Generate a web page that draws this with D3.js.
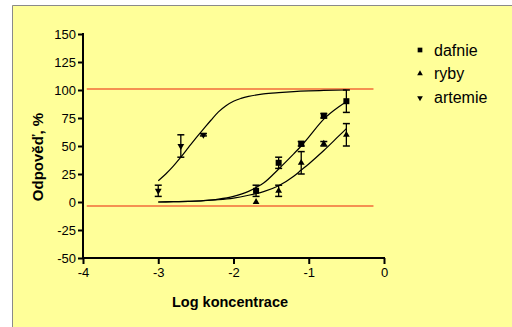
<!DOCTYPE html>
<html>
<head>
<meta charset="utf-8">
<script src="https://cdn.jsdelivr.net/npm/d3@7"></script>
<style>
  body { margin: 0; background: #fff; }
  svg { display: block; }
  .tick text { font-family: "Liberation Sans", Arial, sans-serif; font-size: 13px; fill: #000; }
</style>
</head>
<body>
<div id="chart"></div>
<script>
// measured points (log concentration, response %, error)
var dafnieX = [-1.7, -1.4, -1.1, -0.8, -0.5];
var dafnieY = [10, 35, 52, 77, 90];
var dafnieErr = [5, 5, 2, 2, 10];

var rybyX = [-1.7, -1.4, -1.1, -0.8, -0.5];
var rybyY = [0, 10, 35, 52, 60];
var rybyErr = [0, 5, 10, 2, 10];

var artemieX = [-3, -2.7, -2.4];
var artemieY = [10, 50, 60];
var artemieErr = [5, 10, 1];

// fitted curves
var artemieCurveX = [-3, -2.9, -2.8, -2.7, -2.6, -2.5, -2.4, -2.3, -2.2, -2.1, -2.0, -1.9, -1.8, -1.6, -1.4, -1.2, -1.0, -0.8, -0.5];
var artemieCurveY = [19, 25, 32, 40, 48.5, 57, 65, 73, 80.5, 86, 90, 92.5, 94.3, 96.5, 97.7, 98.6, 99.2, 99.6, 100];

var dafnieCurveX = [-3, -2.8, -2.6, -2.4, -2.2, -2.0, -1.8, -1.7, -1.6, -1.4, -1.2, -1.1, -1.0, -0.8, -0.6, -0.5];
var dafnieCurveY = [0, 0.3, 0.6, 1.2, 2.5, 5, 9.5, 13, 17, 29.5, 43, 50, 58, 74, 85, 89.5];

var rybyCurveX = [-3, -2.8, -2.6, -2.4, -2.2, -2.0, -1.8, -1.7, -1.6, -1.4, -1.2, -1.1, -1.0, -0.8, -0.6, -0.5];
var rybyCurveY = [0, 0.3, 0.6, 1.1, 2, 3.5, 6, 7.5, 9.3, 14.5, 23, 28.5, 34, 46, 59, 65.5];

var refLines = [101, -3.5];
var xTicks = [-4, -3, -2, -1, 0];
var yTicks = [-50, -25, 0, 25, 50, 75, 100, 125, 150];
var legendNames = ["dafnie", "ryby", "artemie"];

var W = 512, H = 327;
var svg = d3.select("#chart").append("svg")
  .attr("width", W)
  .attr("height", H);

// yellow panel with grey frame on top/left
svg.append("rect")
  .attr("x", 12).attr("y", 5)
  .attr("width", W - 12).attr("height", H - 5)
  .attr("fill", "#ffff99");
svg.append("path")
  .attr("d", "M12.5," + H + "V5.5H" + W)
  .attr("fill", "none")
  .attr("stroke", "#8a8a8a")
  .attr("stroke-width", 1);

var x = d3.scaleLinear().domain([-4, 0]).range([83, 384]);
var y = d3.scaleLinear().domain([-50, 150]).range([258, 34]);

// axes
var xAxis = d3.axisBottom(x).tickValues(xTicks).tickSize(6).tickPadding(4).tickFormat(d3.format("d"));
var gx = svg.append("g").attr("transform", "translate(0," + y(-50) + ")").call(xAxis);
var yAxis = d3.axisLeft(y).tickValues(yTicks).tickSize(5).tickPadding(2).tickFormat(d3.format("d"));
var gy = svg.append("g").attr("transform", "translate(" + x(-4) + ",0)").call(yAxis);

[gx, gy].forEach(function(g) {
  g.select(".domain").remove();
  g.selectAll(".tick line").attr("stroke", "#000").attr("stroke-width", 2);
  g.selectAll(".tick text").text(function(d) { return d < 0 ? "-" + Math.abs(d) : d; });
});
svg.append("line")
  .attr("x1", x(-4) - 1).attr("x2", x(0) + 1)
  .attr("y1", y(-50)).attr("y2", y(-50))
  .attr("stroke", "#000").attr("stroke-width", 2);
svg.append("line")
  .attr("x1", x(-4)).attr("x2", x(-4))
  .attr("y1", y(150) - 1).attr("y2", y(-50))
  .attr("stroke", "#000").attr("stroke-width", 2);

// reference lines
svg.selectAll("line.ref")
  .data(refLines)
  .enter().append("line")
  .attr("class", "ref")
  .attr("x1", x(-3.95)).attr("x2", x(-0.14))
  .attr("y1", function(d) { return y(d); })
  .attr("y2", function(d) { return y(d); })
  .attr("stroke", "#f26b3a")
  .attr("stroke-width", 1.5);

// curves
var line = d3.line()
  .x(function(d) { return x(d[0]); })
  .y(function(d) { return y(d[1]); })
  .curve(d3.curveMonotoneX);

[[artemieCurveX, artemieCurveY], [dafnieCurveX, dafnieCurveY], [rybyCurveX, rybyCurveY]].forEach(function(c) {
  svg.append("path")
    .datum(d3.zip(c[0], c[1]))
    .attr("d", line)
    .attr("fill", "none")
    .attr("stroke", "#000")
    .attr("stroke-width", 1.2);
});

// error bars
function errorBars(xs, ys, es) {
  var g = svg.append("g");
  xs.forEach(function(xv, i) {
    if (es[i] <= 0) return;
    var top = y(ys[i] + es[i]), bot = y(ys[i] - es[i]), cx = x(xv);
    g.append("line").attr("x1", cx).attr("x2", cx).attr("y1", top).attr("y2", bot)
      .attr("stroke", "#000").attr("stroke-width", 1.3);
    [top, bot].forEach(function(yy) {
      g.append("line").attr("x1", cx - 3.5).attr("x2", cx + 3.5).attr("y1", yy).attr("y2", yy)
        .attr("stroke", "#000").attr("stroke-width", 1.5);
    });
  });
}
errorBars(dafnieX, dafnieY, dafnieErr);
errorBars(rybyX, rybyY, rybyErr);
errorBars(artemieX, artemieY, artemieErr);

// markers
var sq = d3.symbol().type(d3.symbolSquare).size(36);
var tri = d3.symbol().type(d3.symbolTriangle).size(20);

function markers(xs, ys, sym, rot) {
  svg.append("g").selectAll("path")
    .data(d3.zip(xs, ys))
    .enter().append("path")
    .attr("d", sym)
    .attr("transform", function(d) { return "translate(" + x(d[0]) + "," + y(d[1]) + ")" + (rot ? " rotate(180)" : ""); })
    .attr("fill", "#000");
}
markers(dafnieX, dafnieY, sq, false);
markers(rybyX, rybyY, tri, false);
markers(artemieX, artemieY, tri, true);

// legend
var legSyms = [d3.symbol().type(d3.symbolSquare).size(22), d3.symbol().type(d3.symbolTriangle).size(14), d3.symbol().type(d3.symbolTriangle).size(14)];
var leg = svg.append("g");
legendNames.forEach(function(name, i) {
  var cy = 50 + i * 23.5;
  leg.append("path")
    .attr("d", legSyms[i])
    .attr("transform", "translate(420," + (cy + (i === 2 ? 1 : 0)) + ")" + (i === 2 ? " rotate(180)" : ""))
    .attr("fill", "#000");
  leg.append("text")
    .attr("x", 434).attr("y", cy + 5.5)
    .attr("font-family", "Liberation Sans, Arial, sans-serif")
    .attr("font-size", 16)
    .text(name);
});

// axis titles
svg.append("text")
  .attr("x", 230).attr("y", 307)
  .attr("text-anchor", "middle")
  .attr("font-family", "Liberation Sans, Arial, sans-serif")
  .attr("font-weight", "bold")
  .attr("font-size", 14.5)
  .text("Log koncentrace");

svg.append("text")
  .attr("transform", "translate(43,157) rotate(-90)")
  .attr("text-anchor", "middle")
  .attr("font-family", "Liberation Sans, Arial, sans-serif")
  .attr("font-weight", "bold")
  .attr("font-size", 15)
  .text("Odpověď, %");
</script>
</body>
</html>
